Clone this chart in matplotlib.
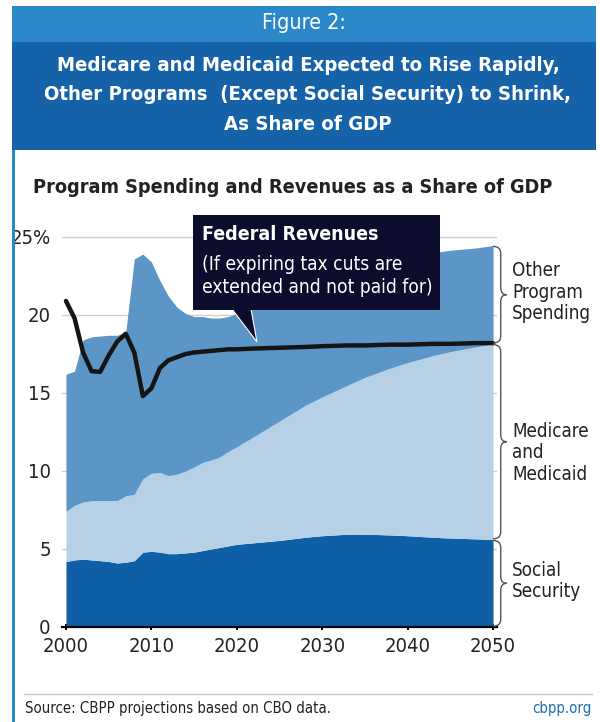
import matplotlib

matplotlib.use("Agg")

import matplotlib.pyplot as plt
from matplotlib import font_manager
from matplotlib.patches import Rectangle, Polygon
from matplotlib.path import Path
from matplotlib.patches import PathPatch

# ---- data (share of GDP, %) ----
years = [2000, 2001, 2002, 2003, 2004, 2005, 2006, 2007, 2008, 2009, 2010,
         2011, 2012, 2013, 2014, 2015, 2016, 2017, 2018, 2019, 2020,
         2022, 2025, 2028, 2030, 2033, 2035, 2038, 2040, 2043, 2045, 2048, 2050]
social_security = [4.2, 4.3, 4.35, 4.3, 4.25, 4.2, 4.1, 4.15, 4.25, 4.8, 4.85,
                   4.8, 4.7, 4.7, 4.75, 4.8, 4.9, 5.0, 5.1, 5.2, 5.3,
                   5.4, 5.55, 5.75, 5.85, 5.95, 5.95, 5.9, 5.85, 5.75, 5.7, 5.65, 5.6]
ss_plus_medicare = [7.4, 7.8, 8.0, 8.1, 8.1, 8.1, 8.1, 8.4, 8.5, 9.5, 9.85,
                    9.9, 9.7, 9.8, 10.0, 10.25, 10.55, 10.7, 10.9, 11.25, 11.55,
                    12.2, 13.2, 14.2, 14.75, 15.5, 16.0, 16.6, 16.95, 17.4, 17.65, 17.95, 18.15]
total_spending = [16.2, 16.4, 18.4, 18.6, 18.65, 18.7, 18.7, 18.9, 23.6, 23.9, 23.4,
                  22.2, 21.2, 20.5, 20.1, 19.9, 19.9, 19.8, 19.8, 19.9, 20.1,
                  20.6, 21.4, 22.1, 22.5, 23.0, 23.3, 23.6, 23.8, 24.0, 24.15, 24.3, 24.45]
revenues = [20.9, 19.8, 17.6, 16.4, 16.35, 17.4, 18.3, 18.8, 17.6, 14.8, 15.3,
            16.6, 17.1, 17.3, 17.5, 17.6, 17.65, 17.7, 17.75, 17.8, 17.8,
            17.85, 17.9, 17.95, 18.0, 18.05, 18.05, 18.1, 18.1, 18.15, 18.15, 18.2, 18.2]

x_ticks = [2000, 2010, 2020, 2030, 2040, 2050]
y_ticks = [0, 5, 10, 15, 20, 25]
y_tick_labels = ["0", "5", "10", "15", "20", "25%"]

C_SS = "#0f5fa6"
C_MED = "#b6d1e6"
C_OTHER = "#5c96c6"
C_HEAD1 = "#2a88c8"
C_HEAD2 = "#1662a9"
C_TEXT = "#222222"

available = {f.name for f in font_manager.fontManager.ttflist}
if "Liberation Sans Narrow" in available:
    FONT = dict(family="Liberation Sans Narrow")
else:
    FONT = dict(family="DejaVu Sans", stretch="condensed")

W, H = 600, 722
fig = plt.figure(figsize=(W / 100, H / 100), dpi=100)
fig.patch.set_facecolor("white")


def fx(x):
    return x / W


def fy(y):
    return 1 - y / H


# ---- header ----
fig.add_artist(Rectangle((fx(12), fy(42)), fx(584), 36 / H, transform=fig.transFigure,
                         facecolor=C_HEAD1, edgecolor="none"))
fig.add_artist(Rectangle((fx(12), fy(150)), fx(584), 108 / H, transform=fig.transFigure,
                         facecolor=C_HEAD2, edgecolor="none"))
fig.add_artist(Rectangle((fx(12), 0), fx(2.5), fy(150), transform=fig.transFigure,
                         facecolor=C_HEAD1, edgecolor="none"))
fig.text(fx(304), fy(23), "Figure 2:", color="white", fontsize=15.5,
         ha="center", va="center", **FONT)
title = ("Medicare and Medicaid Expected to Rise Rapidly,\n"
         "Other Programs  (Except Social Security) to Shrink,\n"
         "As Share of GDP")
fig.text(fx(308), fy(95), title, color="white", fontsize=14.6, fontweight="bold",
         ha="center", va="center", linespacing=1.7, **FONT)
fig.text(fx(33), fy(187), "Program Spending and Revenues as a Share of GDP",
         color=C_TEXT, fontsize=14.2, fontweight="bold", ha="left", va="center", **FONT)

# ---- chart ----
ax = fig.add_axes([fx(61.7), fy(627), 435.6 / W, 405.6 / H])
ax.set_xlim(1999.5, 2050.5)
ax.set_ylim(0, 26)
for v in y_ticks[1:]:
    ax.axhline(v, color="#cfcfcf", linewidth=1, zorder=0)

ax.fill_between(years, 0, social_security, color=C_SS, linewidth=0, zorder=2)
ax.fill_between(years, social_security, ss_plus_medicare, color=C_MED, linewidth=0, zorder=2)
ax.fill_between(years, ss_plus_medicare, total_spending, color=C_OTHER, linewidth=0, zorder=2)
ax.plot(years, revenues, color="#151515", linewidth=3.2, solid_joinstyle="round",
        solid_capstyle="round", zorder=4)

for s in ["top", "right", "left"]:
    ax.spines[s].set_visible(False)
ax.spines["bottom"].set_linewidth(1.6)
ax.spines["bottom"].set_zorder(5)
ax.set_xticks(x_ticks)
ax.set_xticklabels([str(t) for t in x_ticks], fontsize=14.5, color=C_TEXT, **FONT)
ax.set_yticks(y_ticks)
ax.set_yticklabels(y_tick_labels, fontsize=14.5, color=C_TEXT, **FONT)
ax.tick_params(axis="x", length=5, width=1.4, direction="inout", pad=5)
ax.tick_params(axis="y", length=0, pad=8)


# ---- braces on the right ----
def brace(x0, lo, hi):
    dx = 0.9
    tip = 1.6
    r = 0.45
    mid = (lo + hi) / 2
    verts = [(x0, hi), (x0 + dx, hi), (x0 + dx, hi - r),
             (x0 + dx, mid + r), (x0 + dx, mid), (x0 + tip, mid),
             (x0 + dx, mid), (x0 + dx, mid - r),
             (x0 + dx, lo + r), (x0 + dx, lo), (x0, lo)]
    codes = [Path.MOVETO, Path.CURVE3, Path.CURVE3,
             Path.LINETO, Path.CURVE3, Path.CURVE3,
             Path.CURVE3, Path.CURVE3,
             Path.LINETO, Path.CURVE3, Path.CURVE3]
    ax.add_patch(PathPatch(Path(verts, codes), facecolor="none", edgecolor="#555555",
                           linewidth=1.0, clip_on=False, zorder=6))


end = len(years) - 1
brace(years[end], 0.05, social_security[end] - 0.05)
brace(years[end], social_security[end] + 0.05, ss_plus_medicare[end] - 0.05)
brace(years[end], ss_plus_medicare[end] + 0.05, total_spending[end] - 0.05)

label_kw = dict(color=C_TEXT, fontsize=13.5, ha="left", va="center", linespacing=1.15, **FONT)
fig.text(fx(512), fy(292), "Other\nProgram\nSpending", **label_kw)
fig.text(fx(512), fy(453), "Medicare\nand\nMedicaid", **label_kw)
fig.text(fx(512), fy(581), "Social\nSecurity", **label_kw)

# ---- callout ----
fig.add_artist(Rectangle((fx(193), fy(310)), 247 / W, 95 / H, transform=fig.transFigure,
                         facecolor="#0c0c2c", edgecolor="none", zorder=10))
fig.add_artist(Polygon([(fx(232), fy(309)), (fx(251), fy(309)), (fx(257), fy(342))],
                       closed=True, transform=fig.transFigure, facecolor="#0c0c2c",
                       edgecolor="white", linewidth=0.8, zorder=9))
fig.text(fx(202), fy(234), "Federal Revenues", color="white", fontsize=14,
         fontweight="bold", ha="left", va="center", zorder=11, **FONT)
fig.text(fx(202), fy(276), "(If expiring tax cuts are\nextended and not paid for)",
         color="white", fontsize=13.8, ha="left", va="center", linespacing=1.3,
         zorder=11, **FONT)

# ---- footer ----
fig.add_artist(plt.Line2D([fx(24), fx(592)], [fy(694), fy(694)], transform=fig.transFigure,
                          color="#c8c8c8", linewidth=1))
fig.text(fx(25), fy(709), "Source: CBPP projections based on CBO data.", color=C_TEXT,
         fontsize=10.7, ha="left", va="center", **FONT)
fig.text(fx(592), fy(709), "cbpp.org", color="#1a6fb5", fontsize=10.7,
         ha="right", va="center", **FONT)

fig.savefig("out.png", dpi=100)
